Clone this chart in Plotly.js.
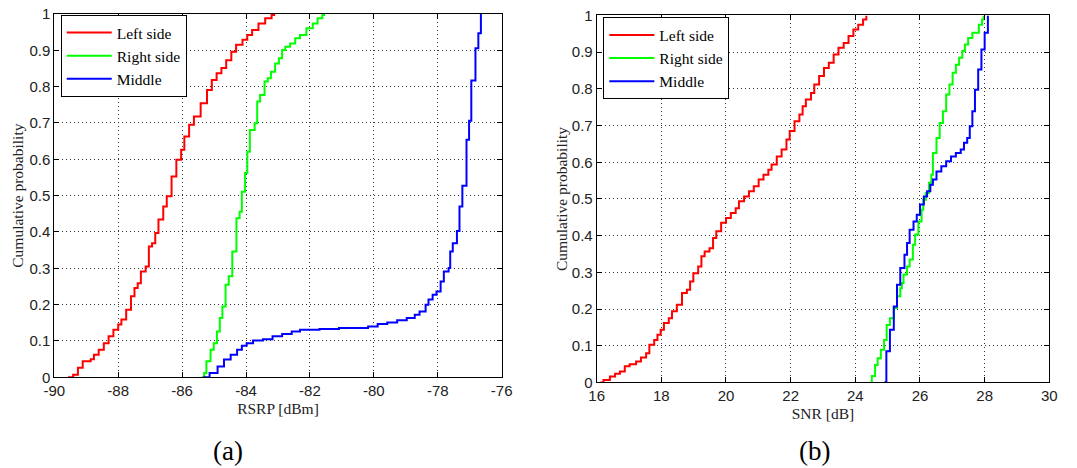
<!DOCTYPE html>
<html>
<head>
<meta charset="utf-8">
<script src="https://cdn.plot.ly/plotly-3.0.1.min.js"></script>
<style>
  html, body { margin: 0; padding: 0; background: #fff; }
  #chart { width: 1077px; height: 468px; }
</style>
</head>
<body>
<div id="chart"></div>
<script>
// Empirical CDFs of RSRP (panel a) and SNR (panel b) for three positions.
// Each pair of arrays is (sample value, cumulative probability) at the step corners.

// ---- Panel (a): RSRP [dBm] ----
const rsrpLeftX  = [-89.57, -89.41, -89.26, -89.11, -88.86, -88.76, -88.61, -88.45, -88.30, -88.15, -88.00, -87.90, -87.75, -87.60, -87.49, -87.39, -87.29, -87.14, -87.04, -86.94, -86.84, -86.74, -86.59, -86.48, -86.33, -86.18, -86.03, -85.93, -85.78, -85.63, -85.42, -85.22, -85.07, -84.92, -84.77, -84.62, -84.46, -84.31, -84.11, -83.96, -83.81, -83.61, -83.40, -83.20, -83.12];
const rsrpLeftP  = [0.000, 0.007, 0.026, 0.044, 0.050, 0.062, 0.076, 0.094, 0.113, 0.131, 0.145, 0.159, 0.186, 0.223, 0.246, 0.259, 0.291, 0.305, 0.360, 0.369, 0.397, 0.434, 0.470, 0.498, 0.553, 0.599, 0.626, 0.663, 0.695, 0.718, 0.754, 0.791, 0.818, 0.837, 0.851, 0.873, 0.896, 0.915, 0.929, 0.942, 0.956, 0.974, 0.988, 0.997, 1.000];

const rsrpRightX = [-85.39, -85.31, -85.24, -85.11, -85.01, -84.91, -84.82, -84.74, -84.64, -84.54, -84.43, -84.30, -84.20, -84.13, -84.03, -83.96, -83.88, -83.73, -83.65, -83.56, -83.42, -83.32, -83.22, -83.09, -82.97, -82.87, -82.77, -82.62, -82.46, -82.31, -82.11, -81.91, -81.76, -81.61, -81.56];
const rsrpRightP = [0.000, 0.012, 0.044, 0.076, 0.094, 0.126, 0.163, 0.195, 0.255, 0.278, 0.346, 0.438, 0.456, 0.511, 0.562, 0.621, 0.681, 0.699, 0.759, 0.777, 0.814, 0.823, 0.841, 0.864, 0.878, 0.901, 0.910, 0.919, 0.933, 0.942, 0.961, 0.974, 0.988, 0.997, 1.000];

const rsrpMidX   = [-85.34, -85.14, -84.89, -84.69, -84.48, -84.28, -84.13, -83.98, -83.78, -83.47, -83.17, -82.87, -82.57, -82.31, -81.70, -81.09, -80.18, -79.88, -79.58, -79.27, -78.97, -78.72, -78.57, -78.38, -78.29, -78.16, -78.04, -77.91, -77.81, -77.66, -77.61, -77.53, -77.40, -77.32, -77.23, -77.10, -77.02, -76.95, -76.82, -76.73, -76.65];
const rsrpMidP   = [0.000, 0.012, 0.030, 0.049, 0.062, 0.076, 0.087, 0.094, 0.101, 0.105, 0.113, 0.119, 0.126, 0.131, 0.133, 0.136, 0.140, 0.147, 0.151, 0.157, 0.163, 0.172, 0.181, 0.200, 0.214, 0.227, 0.236, 0.264, 0.291, 0.301, 0.346, 0.369, 0.403, 0.470, 0.527, 0.654, 0.706, 0.817, 0.906, 0.947, 1.000];

// ---- Panel (b): SNR [dB] ----
const snrLeftX   = [16.11, 16.21, 16.41, 16.57, 16.72, 16.87, 17.02, 17.22, 17.37, 17.53, 17.63, 17.78, 17.88, 17.98, 18.08, 18.23, 18.33, 18.48, 18.64, 18.79, 18.89, 18.99, 19.14, 19.24, 19.34, 19.49, 19.60, 19.70, 19.85, 20.00, 20.15, 20.30, 20.40, 20.56, 20.71, 20.86, 21.01, 21.16, 21.31, 21.41, 21.57, 21.72, 21.87, 21.97, 22.12, 22.27, 22.37, 22.47, 22.63, 22.73, 22.88, 23.03, 23.18, 23.33, 23.48, 23.64, 23.79, 23.94, 24.09, 24.24, 24.34];
const snrLeftP   = [0.000, 0.007, 0.016, 0.024, 0.030, 0.044, 0.050, 0.057, 0.068, 0.080, 0.103, 0.116, 0.130, 0.144, 0.162, 0.175, 0.194, 0.212, 0.244, 0.253, 0.275, 0.298, 0.316, 0.344, 0.357, 0.366, 0.394, 0.412, 0.435, 0.448, 0.462, 0.475, 0.494, 0.507, 0.521, 0.535, 0.553, 0.566, 0.580, 0.594, 0.616, 0.635, 0.662, 0.685, 0.712, 0.730, 0.753, 0.771, 0.789, 0.812, 0.835, 0.857, 0.871, 0.894, 0.912, 0.925, 0.944, 0.962, 0.975, 0.989, 1.000];

const snrRightX  = [24.48, 24.51, 24.61, 24.69, 24.79, 24.89, 24.97, 25.07, 25.19, 25.29, 25.39, 25.44, 25.49, 25.60, 25.68, 25.78, 25.85, 25.95, 26.05, 26.10, 26.18, 26.28, 26.35, 26.40, 26.51, 26.61, 26.71, 26.81, 26.91, 27.01, 27.11, 27.21, 27.31, 27.39, 27.49, 27.62, 27.82, 27.92, 27.97];
const snrRightP  = [0.000, 0.018, 0.048, 0.066, 0.089, 0.116, 0.157, 0.175, 0.203, 0.235, 0.257, 0.271, 0.294, 0.316, 0.335, 0.375, 0.403, 0.439, 0.471, 0.498, 0.516, 0.544, 0.566, 0.625, 0.666, 0.707, 0.739, 0.785, 0.812, 0.844, 0.866, 0.885, 0.903, 0.921, 0.939, 0.953, 0.975, 0.989, 1.000];

const snrMidX    = [24.89, 24.96, 25.07, 25.19, 25.29, 25.39, 25.52, 25.60, 25.68, 25.80, 25.90, 26.00, 26.12, 26.22, 26.32, 26.40, 26.51, 26.66, 26.81, 26.96, 27.11, 27.26, 27.36, 27.46, 27.54, 27.62, 27.70, 27.80, 27.90, 28.00, 28.10];
const snrMidP    = [0.000, 0.085, 0.144, 0.207, 0.266, 0.312, 0.348, 0.380, 0.416, 0.439, 0.457, 0.485, 0.507, 0.521, 0.539, 0.553, 0.575, 0.589, 0.603, 0.616, 0.625, 0.635, 0.653, 0.666, 0.698, 0.739, 0.798, 0.853, 0.907, 0.953, 1.000];

// Series names and colours
const seriesNames  = ['Left side', 'Right side', 'Middle'];
const seriesColors = ['#ff0000', '#00ff00', '#0000ff'];

// Axis ticks
const rsrpTicks    = [-90, -88, -86, -84, -82, -80, -78, -76];
const rsrpTickText = ['-90', '-88', '-86', '-84', '-82', '-80', '-78', '-76'];
const snrTicks     = [16, 18, 20, 22, 24, 26, 28, 30];
const snrTickText  = ['16', '18', '20', '22', '24', '26', '28', '30'];
const probTicks    = [0, 0.1, 0.2, 0.3, 0.4, 0.5, 0.6, 0.7, 0.8, 0.9, 1];
const probTickText = ['0', '0.1', '0.2', '0.3', '0.4', '0.5', '0.6', '0.7', '0.8', '0.9', '1'];

const serif = 'Liberation Serif, Times New Roman, serif';
const sans  = 'Liberation Sans, Arial, sans-serif';

function stepTrace(x, y, i, xa, ya, leg) {
  return {
    x: x, y: y, type: 'scatter', mode: 'lines',
    name: seriesNames[i], xaxis: xa, yaxis: ya, legend: leg,
    line: { color: seriesColors[i], width: 2, shape: 'hv' },
    hoverinfo: 'skip'
  };
}

const data = [
  stepTrace(rsrpLeftX,  rsrpLeftP,  0, 'x',  'y',  'legend'),
  stepTrace(rsrpRightX, rsrpRightP, 1, 'x',  'y',  'legend'),
  stepTrace(rsrpMidX,   rsrpMidP,   2, 'x',  'y',  'legend'),
  stepTrace(snrLeftX,   snrLeftP,   0, 'x2', 'y2', 'legend2'),
  stepTrace(snrRightX,  snrRightP,  1, 'x2', 'y2', 'legend2'),
  stepTrace(snrMidX,    snrMidP,    2, 'x2', 'y2', 'legend2')
];

const axisStyle = {
  showline: true, linecolor: '#000', linewidth: 1, mirror: 'ticks',
  ticks: 'inside', ticklen: 5, tickcolor: '#000', tickwidth: 1,
  showgrid: true, gridcolor: '#333', gridwidth: 1, griddash: '1px,3px',
  zeroline: false, fixedrange: true,
  tickfont: { family: sans, size: 15, color: '#222' }
};

const titleFont = { family: serif, size: 15.5, color: '#222' };

const legendStyle = {
  bgcolor: '#fff', bordercolor: '#000', borderwidth: 1,
  font: { family: serif, size: 15.5, color: '#000' },
  xanchor: 'left', yanchor: 'top', tracegroupgap: 0, itemwidth: 45
};

const layout = {
  width: 1077, height: 468,
  margin: { l: 0, r: 0, t: 0, b: 0 },
  paper_bgcolor: '#fff', plot_bgcolor: '#fff',
  xaxis: Object.assign({}, axisStyle, {
    domain: [0.0504, 0.4658], range: [-90, -76], anchor: 'y',
    tickvals: rsrpTicks, ticktext: rsrpTickText,
    title: { text: 'RSRP [dBm]', font: titleFont, standoff: 4 }
  }),
  yaxis: Object.assign({}, axisStyle, {
    domain: [0.1938, 0.9701], range: [0, 1], anchor: 'x',
    tickvals: probTicks, ticktext: probTickText,
    title: { text: 'Cumulative probability', font: titleFont, standoff: 1 }
  }),
  xaxis2: Object.assign({}, axisStyle, {
    domain: [0.5540, 0.9743], range: [16, 30], anchor: 'y2',
    tickvals: snrTicks, ticktext: snrTickText,
    title: { text: 'SNR [dB]', font: titleFont, standoff: 4 }
  }),
  yaxis2: Object.assign({}, axisStyle, {
    domain: [0.1827, 0.9669], range: [0, 1], anchor: 'x2',
    tickvals: probTicks, ticktext: probTickText,
    title: { text: 'Cumulative probability', font: titleFont, standoff: 0 }
  }),
  legend: Object.assign({}, legendStyle, { x: 0.0564, y: 0.968 }),
  legend2: Object.assign({}, legendStyle, { x: 0.5602, y: 0.963 }),
  annotations: [
    { text: '(a)', xref: 'paper', yref: 'paper', x: 228 / 1077, y: 0,
      xanchor: 'center', yanchor: 'bottom', showarrow: false,
      font: { family: serif, size: 27, color: '#000' } },
    { text: '(b)', xref: 'paper', yref: 'paper', x: 814 / 1077, y: 0,
      xanchor: 'center', yanchor: 'bottom', showarrow: false,
      font: { family: serif, size: 27, color: '#000' } }
  ],
  showlegend: true
};

Plotly.newPlot('chart', data, layout, { displayModeBar: false, staticPlot: true });
</script>
</body>
</html>
